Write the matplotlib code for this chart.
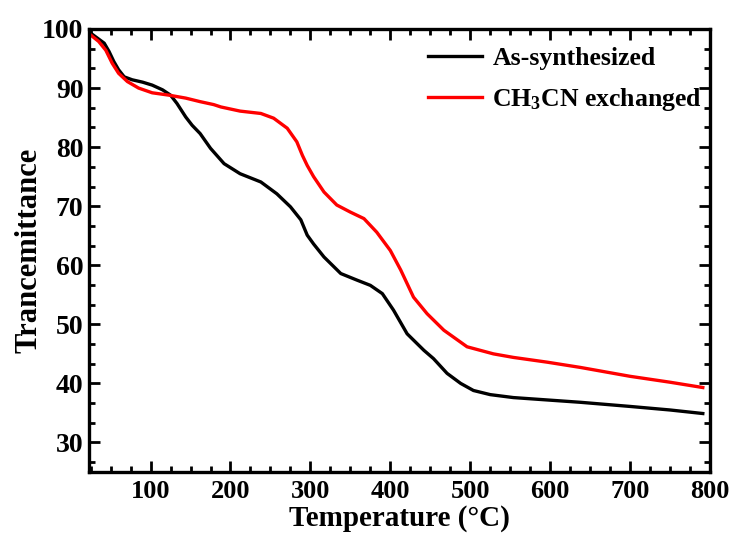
import matplotlib
matplotlib.use("Agg")
import matplotlib.pyplot as plt
from matplotlib.ticker import MultipleLocator, AutoMinorLocator

plt.rcParams['font.family'] = ['Liberation Serif', 'DejaVu Serif']
plt.rcParams['font.weight'] = 'bold'
plt.rcParams['mathtext.fontset'] = 'custom'
plt.rcParams['mathtext.rm'] = 'Liberation Serif:bold'
plt.rcParams['mathtext.bf'] = 'Liberation Serif:bold'
plt.rcParams['mathtext.default'] = 'bf'

# As-synthesized curve
temp_as = [23, 31, 42, 48, 54, 60, 67, 77, 90, 102, 115, 125, 133, 144, 152,
           162, 175, 192, 212, 238, 258, 275, 288, 296, 304, 317, 338, 358,
           375, 390, 404, 421, 442, 454, 471, 488, 504, 525, 554, 596, 638,
           700, 750, 791]
tr_as = [99.5, 98.7, 97.6, 96.2, 94.5, 93.1, 91.9, 91.4, 91.0, 90.5, 89.7,
         88.8, 87.4, 85.1, 83.7, 82.3, 79.8, 77.2, 75.5, 74.1, 72.1, 69.9,
         67.7, 65.1, 63.6, 61.4, 58.6, 57.5, 56.6, 55.2, 52.4, 48.4, 45.6,
         44.2, 41.7, 40.0, 38.8, 38.1, 37.6, 37.2, 36.8, 36.1, 35.5, 34.9]

# CH3CN exchanged curve
temp_ex = [23, 35, 44, 52, 60, 71, 85, 102, 123, 144, 162, 179, 188, 212,
           238, 254, 271, 283, 290, 296, 304, 317, 333, 350, 367, 383, 400,
           413, 429, 446, 467, 496, 529, 554, 596, 638, 700, 750, 791]
tr_ex = [99.2, 97.9, 96.4, 94.2, 92.5, 91.1, 90.0, 89.2, 88.8, 88.3, 87.7,
         87.2, 86.8, 86.1, 85.7, 84.9, 83.2, 80.9, 78.6, 76.9, 75.0, 72.4,
         70.2, 69.0, 67.9, 65.6, 62.5, 59.2, 54.6, 51.8, 49.0, 46.2, 45.0,
         44.4, 43.6, 42.7, 41.2, 40.2, 39.3]

fig = plt.figure(figsize=(7.34, 5.39), dpi=100)
ax = fig.add_axes([0.1213, 0.1243, 0.8460, 0.8219])

ax.plot(temp_as, tr_as, color='black', lw=2.4, label='As-synthesized')
ax.plot(temp_ex, tr_ex, color='#ff0000', lw=2.4, label='CH$_3$CN exchanged')

ax.set_xlim(23, 800)
ax.set_ylim(25, 100)
ax.xaxis.set_major_locator(MultipleLocator(100))
ax.xaxis.set_minor_locator(MultipleLocator(25))
ax.yaxis.set_major_locator(MultipleLocator(10))
ax.yaxis.set_minor_locator(AutoMinorLocator(3))

for s in ax.spines.values():
    s.set_linewidth(2.4)
ax.tick_params(which='both', direction='in', top=True, right=True, width=2)
ax.tick_params(which='major', length=8, pad=6)
ax.tick_params(which='minor', length=4)
ax.tick_params(axis='x', labelsize=19)
ax.tick_params(axis='y', labelsize=20, pad=4)
for lab in ax.get_xticklabels() + ax.get_yticklabels():
    lab.set_fontweight('bold')

ax.set_xlabel('Temperature (\u00b0C)', fontsize=21, fontweight='bold', labelpad=1)
ax.set_ylabel('Trancemittance', fontsize=22, fontweight='bold', labelpad=-1)

ax.legend(loc='upper right', bbox_to_anchor=(1.016, 1.0), frameon=False,
          handlelength=2.1, handletextpad=0.4, labelspacing=0.62,
          borderaxespad=0.3, prop={'weight': 'bold', 'size': 18.5})

fig.savefig('out.png', dpi=100)
